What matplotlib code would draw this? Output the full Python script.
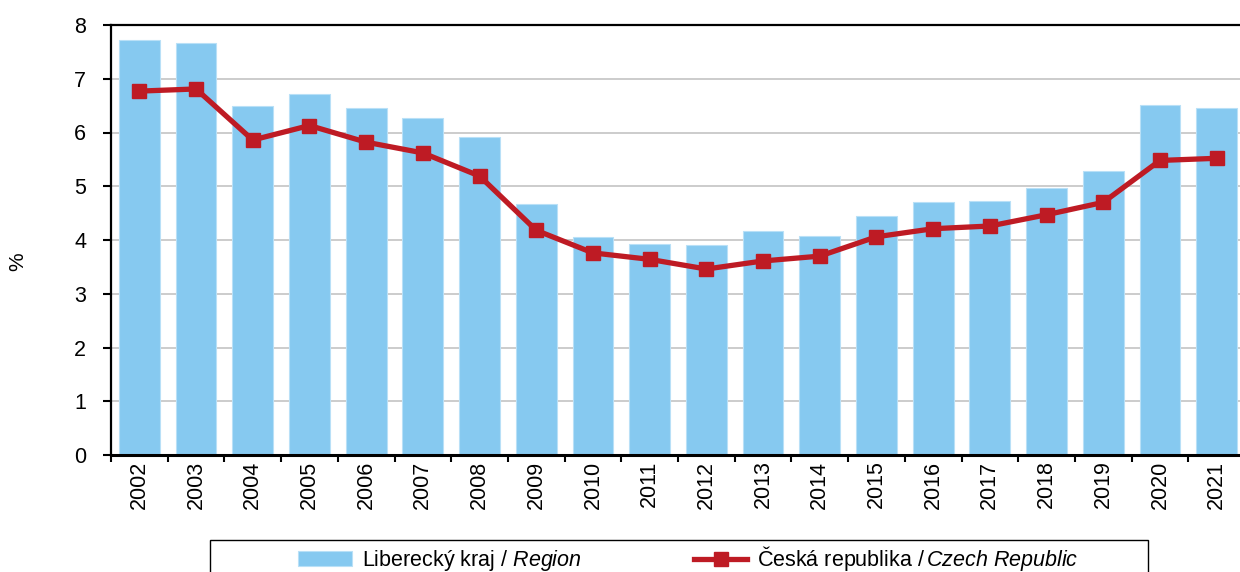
"""Unemployment rate: Liberecký kraj vs. Czech Republic, 2002-2021."""

import matplotlib.pyplot as plt
import numpy as np
from matplotlib.patches import Rectangle

years = [str(y) for y in range(2002, 2022)]
region = [7.73, 7.66, 6.49, 6.72, 6.46, 6.27, 5.91, 4.67, 4.05, 3.92,
          3.90, 4.16, 4.07, 4.45, 4.70, 4.73, 4.96, 5.29, 6.51, 6.46]
czech = [6.77, 6.81, 5.86, 6.13, 5.82, 5.62, 5.19, 4.18, 3.76, 3.64,
         3.46, 3.61, 3.70, 4.06, 4.21, 4.26, 4.47, 4.70, 5.48, 5.52]
y_ticks = list(range(0, 9))

BAR_COLOR = "#86C9F0"
LINE_COLOR = "#BE1B24"
FONT = "Liberation Sans"


def main() -> None:
    plt.rcParams["font.family"] = [FONT, "DejaVu Sans"]
    plt.rcParams["mathtext.fontset"] = "custom"
    plt.rcParams["mathtext.rm"] = FONT
    plt.rcParams["mathtext.it"] = FONT + ":italic"

    fig = plt.figure(figsize=(12.4, 5.72), dpi=100)
    ax = fig.add_axes([111 / 1240, 117 / 572, 1134 / 1240, 430 / 572])

    x = np.arange(len(years))
    bars = ax.bar(x, region, width=0.72, color=BAR_COLOR, edgecolor="#B9E0F7",
                  linewidth=0.8, zorder=2,
                  label=r"Liberecký kraj / $\it{Region}$")
    (line,) = ax.plot(x, czech, color=LINE_COLOR, linewidth=3.8, marker="s",
                      markersize=9.5, zorder=3,
                      label=r"Česká republika /$\,\it{Czech\ Republic}$")

    ax.set_xlim(-0.5, len(years) - 0.5)
    ax.set_ylim(0, 8)
    ax.set_yticks(y_ticks)
    ax.yaxis.grid(True, color="#C4C4C4", linewidth=1.2, zorder=0)
    ax.set_axisbelow(True)

    ax.set_xticks(x)
    ax.set_xticklabels(years, rotation=90)
    ax.set_xticks(np.arange(-0.5, len(years)), minor=True)
    ax.tick_params(axis="x", which="major", length=0, pad=4, labelsize=15.5)
    ax.tick_params(axis="x", which="minor", length=5, width=1.5,
                   direction="out")
    ax.tick_params(axis="y", length=6, width=1.5, pad=12, labelsize=15.5)

    for side in ("left", "bottom", "top"):
        ax.spines[side].set_color("black")
    ax.spines["left"].set_linewidth(1.6)
    ax.spines["bottom"].set_linewidth(2.2)
    ax.spines["top"].set_linewidth(1.6)
    ax.spines["right"].set_visible(False)

    fig.text(18 / 1240, 1 - 262 / 572, "%", rotation=90, fontsize=15,
             ha="center", va="center")

    # legend frame runs off the bottom edge of the figure
    fig.patches.append(Rectangle((210 / 1240, -0.05), 938 / 1240,
                                 0.05 + 32 / 572, transform=fig.transFigure,
                                 fill=False, edgecolor="black", linewidth=1.0))
    fig.legend(handles=[bars, line], loc="upper left",
               bbox_to_anchor=(292 / 1240, 1 - 538 / 572),
               ncol=2, frameon=False, fontsize=15.5, handlelength=2.5,
               handletextpad=0.45, columnspacing=5.2, borderaxespad=0,
               borderpad=0.3)

    fig.savefig("out.png", dpi=100)


if __name__ == "__main__":
    main()
